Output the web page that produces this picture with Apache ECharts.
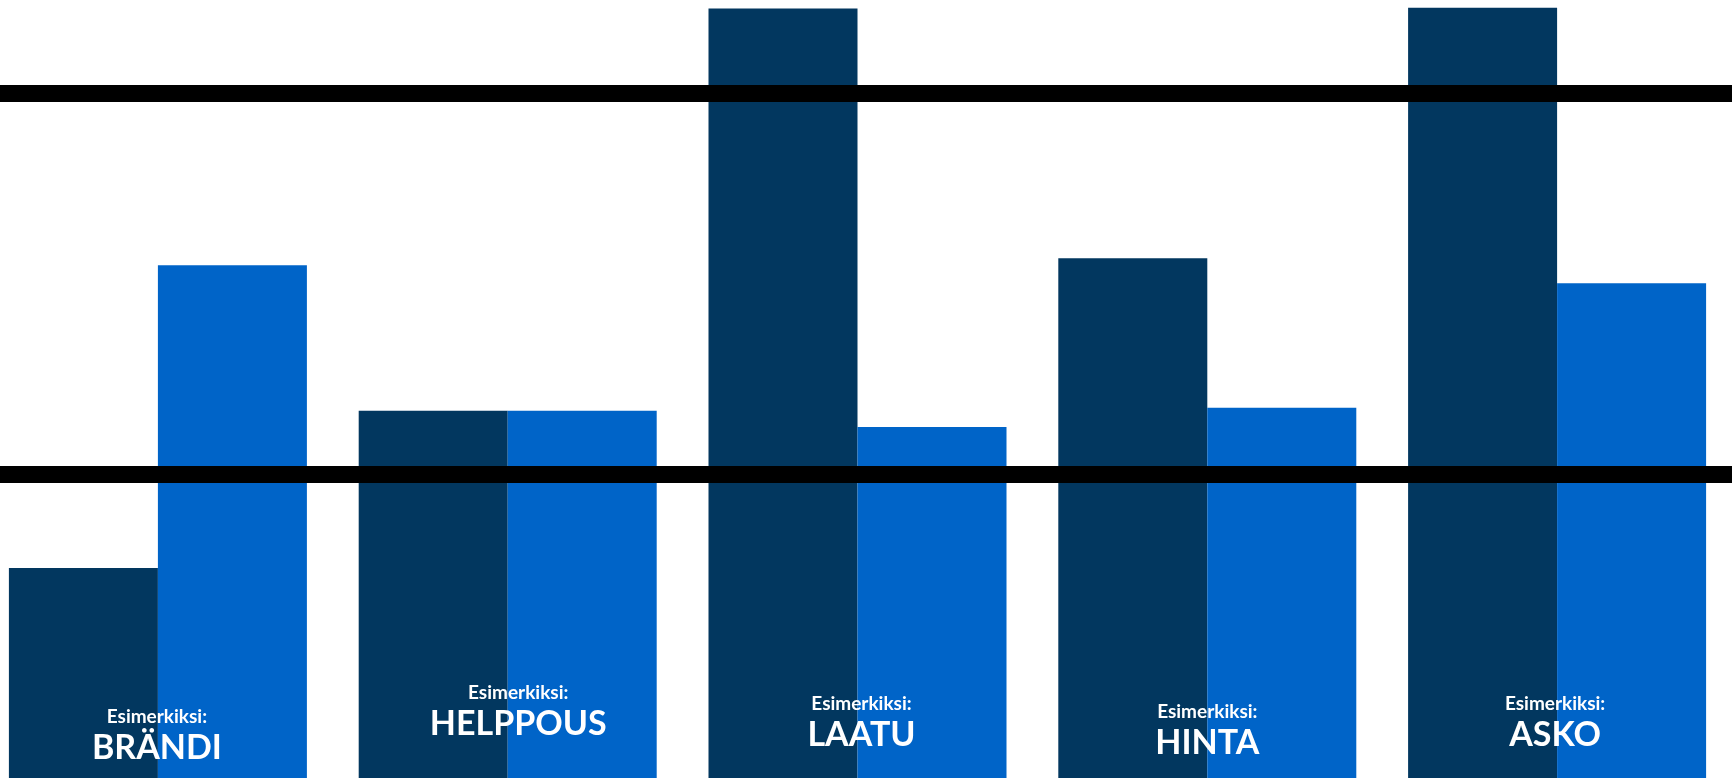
<!DOCTYPE html>
<html>
<head>
<meta charset="utf-8">
<script src="https://cdn.jsdelivr.net/npm/echarts@6/dist/echarts.min.js"></script>
<style>
html,body{margin:0;padding:0;background:#fff;overflow:hidden;}
#chart{width:1750px;height:778px;margin-left:-17px;}
</style>
</head>
<body>
<div id="chart"></div>
<script>
// ---- data ----
var categories = ['BRÄNDI', 'HELPPOUS', 'LAATU', 'HINTA', 'ASKO'];
var prefixLabel = 'Esimerkiksi:';
var seriesDark = [27.0, 47.2, 98.9, 66.8, 99.0];
var seriesLight = [65.9, 47.2, 45.1, 47.6, 63.6];
var referenceLines = [88.0, 39.1];

// ---- layout / style (not data) ----
var labelOffsets = [[-75.5, -10], [-64, -34], [-70.5, -23], [-74.5, -15], [-76.5, -23]];
var darkColor = '#02375F';
var lightColor = '#0064C8';

var chart = echarts.init(document.getElementById('chart'), null, {renderer: 'canvas'});

var lightData = seriesLight.map(function (v, i) {
  return {
    value: v,
    label: {
      show: true,
      position: 'insideBottom',
      distance: 0,
      offset: labelOffsets[i],
      formatter: '{a|' + prefixLabel + '}\n{b|' + categories[i] + '}',
      rich: {
        a: {fontFamily: 'Lato', fontWeight: 'bold', fontSize: 19, lineHeight: 22, color: '#fff', align: 'center'},
        b: {fontFamily: 'Lato', fontWeight: 'bold', fontSize: 34, lineHeight: 40, color: '#fff', align: 'center'}
      }
    }
  };
});

var option = {
  animation: false,
  backgroundColor: '#ffffff',
  grid: {left: 0, right: 1, top: 0, bottom: 0, containLabel: false},
  xAxis: {
    type: 'category',
    data: categories,
    axisLine: {show: false},
    axisTick: {show: false},
    axisLabel: {show: false},
    splitLine: {show: false}
  },
  yAxis: {
    type: 'value',
    min: 0,
    max: 100,
    show: false
  },
  series: [
    {
      type: 'bar',
      name: 'dark',
      data: seriesDark,
      barWidth: 149,
      barGap: '0%',
      itemStyle: {color: darkColor},
      z: 2
    },
    {
      type: 'bar',
      name: 'light',
      data: lightData,
      barWidth: 149,
      barGap: '0%',
      itemStyle: {color: lightColor},
      z: 2,
      markLine: {
        silent: true,
        symbol: ['none', 'none'],
        label: {show: false},
        lineStyle: {color: '#000', width: 17, type: 'solid'},
        data: referenceLines.map(function (v) { return {yAxis: v}; }),
        z: 5
      }
    }
  ]
};
chart.setOption(option);
</script>
</body>
</html>
